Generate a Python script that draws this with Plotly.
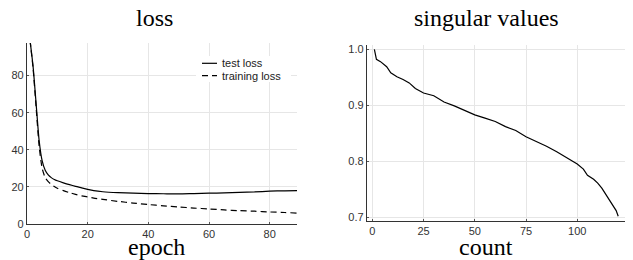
import plotly.graph_objects as go

# page body has an 8px margin; figure is sized to fit the 633x260 window
OFF = 8
W, H = 633 - OFF, 260 - OFF

# ---- data ----
epochs = [1, 2, 3, 4, 5, 6, 7, 8, 9, 10, 12, 14, 16, 18, 20, 22, 25, 30, 35, 40,
          45, 50, 55, 60, 65, 70, 75, 80, 85, 89]
test_loss = [99, 85, 65, 45, 34, 29, 26.5, 25, 24, 23.3, 22.2, 21.2, 20.3, 19.5, 18.7,
             18.0, 17.4, 16.9, 16.6, 16.4, 16.3, 16.2, 16.4, 16.6, 16.8, 17.1, 17.3,
             17.7, 17.9, 18.0]
train_loss = [99, 84, 63, 42, 30, 25, 22.8, 21.3, 20.2, 19.3, 18.0, 16.9, 16.0, 15.2,
              14.6, 14.0, 13.3, 12.2, 11.3, 10.5, 9.8, 9.2, 8.6, 8.1, 7.6, 7.2, 6.9,
              6.5, 6.2, 5.9]

sv_count = [1, 2, 4, 7, 9, 12, 15, 18, 21, 25, 30, 35, 40, 45, 50, 55, 60, 65, 70,
            75, 80, 85, 90, 95, 100, 103, 105, 108, 110, 112, 114, 116, 118, 119, 120]
sv_value = [1.0, 0.982, 0.978, 0.969, 0.958, 0.951, 0.946, 0.940, 0.930, 0.922,
            0.917, 0.906, 0.899, 0.891, 0.883, 0.877, 0.871, 0.862, 0.855, 0.844,
            0.836, 0.827, 0.817, 0.806, 0.795, 0.786, 0.775, 0.768, 0.761, 0.752,
            0.740, 0.729, 0.718, 0.712, 0.702]

loss_xticks = [0, 20, 40, 60, 80]
loss_yticks = [0, 20, 40, 60, 80]
sv_xticks = [0, 25, 50, 75, 100]
sv_yticks = [0.7, 0.8, 0.9, 1.0]
sv_yticklabels = ["0.7", "0.8", "0.9", "1.0"]

# ---- layout helpers (window pixel -> paper fraction) ----
def px_x(x):
    return (x - OFF) / W

def px_y(y):
    return (H - (y - OFF)) / H

fig = go.Figure()
fig.add_trace(go.Scatter(x=epochs, y=test_loss, mode="lines", name="test loss",
                         line=dict(color="black", width=1.2, shape="spline", smoothing=0.6),
                         xaxis="x", yaxis="y", showlegend=False))
fig.add_trace(go.Scatter(x=epochs, y=train_loss, mode="lines", name="training loss",
                         line=dict(color="black", width=1.2, dash="6px,4px", shape="spline", smoothing=0.6),
                         xaxis="x", yaxis="y", showlegend=False))
fig.add_trace(go.Scatter(x=sv_count, y=sv_value, mode="lines", name="singular values",
                         line=dict(color="black", width=1.2),
                         xaxis="x2", yaxis="y2", showlegend=False))

tickfont = dict(family="Liberation Sans, Arial, sans-serif", size=11, color="#333")
axis_common = dict(showgrid=True, gridcolor="#e6e6e6", gridwidth=1,
                   showline=True, linecolor="#333", linewidth=1.3,
                   ticks="inside", ticklen=2, tickcolor="#555",
                   zeroline=False, tickfont=tickfont, mirror=False,
                   automargin=False)

fig.update_layout(
    template="none",
    width=W, height=H,
    margin=dict(l=0, r=0, t=0, b=0, pad=0),
    paper_bgcolor="white", plot_bgcolor="white",
    showlegend=False,
    xaxis=dict(domain=[px_x(27), px_x(297)], range=[0, 89], tickvals=loss_xticks,
               anchor="y", **axis_common),
    yaxis=dict(domain=[px_y(224), px_y(43)], range=[0, 97.6], tickvals=loss_yticks,
               anchor="x", **axis_common),
    xaxis2=dict(domain=[px_x(367), px_x(626)], range=[-2.6, 123.8], tickvals=sv_xticks,
                anchor="y2", **axis_common),
    yaxis2=dict(domain=[px_y(221), px_y(45)], range=[0.6934, 1.0077], tickvals=sv_yticks,
                ticktext=sv_yticklabels, anchor="x2", **axis_common),
)

serif = dict(family="Liberation Serif, DejaVu Serif, serif", size=24, color="black")
titles = [("loss", 154, 18), ("epoch", 156, 247), ("singular values", 486, 18), ("count", 486, 247)]
for txt, x, y in titles:
    fig.add_annotation(text=txt, x=px_x(x), y=px_y(y), xref="paper", yref="paper",
                       showarrow=False, xanchor="center", yanchor="middle", font=serif)

# ---- manual legend ----
fig.add_shape(type="rect", xref="paper", yref="paper", x0=px_x(196), x1=px_x(291),
              y0=px_y(82), y1=px_y(56), fillcolor="white", line=dict(width=0), layer="above")
legend_items = [("test loss", "solid", 63.3), ("training loss", "6px,4px", 75.7)]
for label, dash, y in legend_items:
    fig.add_shape(type="line", xref="paper", yref="paper", x0=px_x(202), x1=px_x(217),
                  y0=px_y(y), y1=px_y(y), line=dict(color="black", width=1.2, dash=dash),
                  layer="above")
    fig.add_annotation(text=label, x=px_x(220), y=px_y(y), xref="paper", yref="paper",
                       showarrow=False, xanchor="left", yanchor="middle",
                       font=dict(family="Liberation Sans, Arial, sans-serif", size=11, color="#222"))

fig.write_html("out.html")
